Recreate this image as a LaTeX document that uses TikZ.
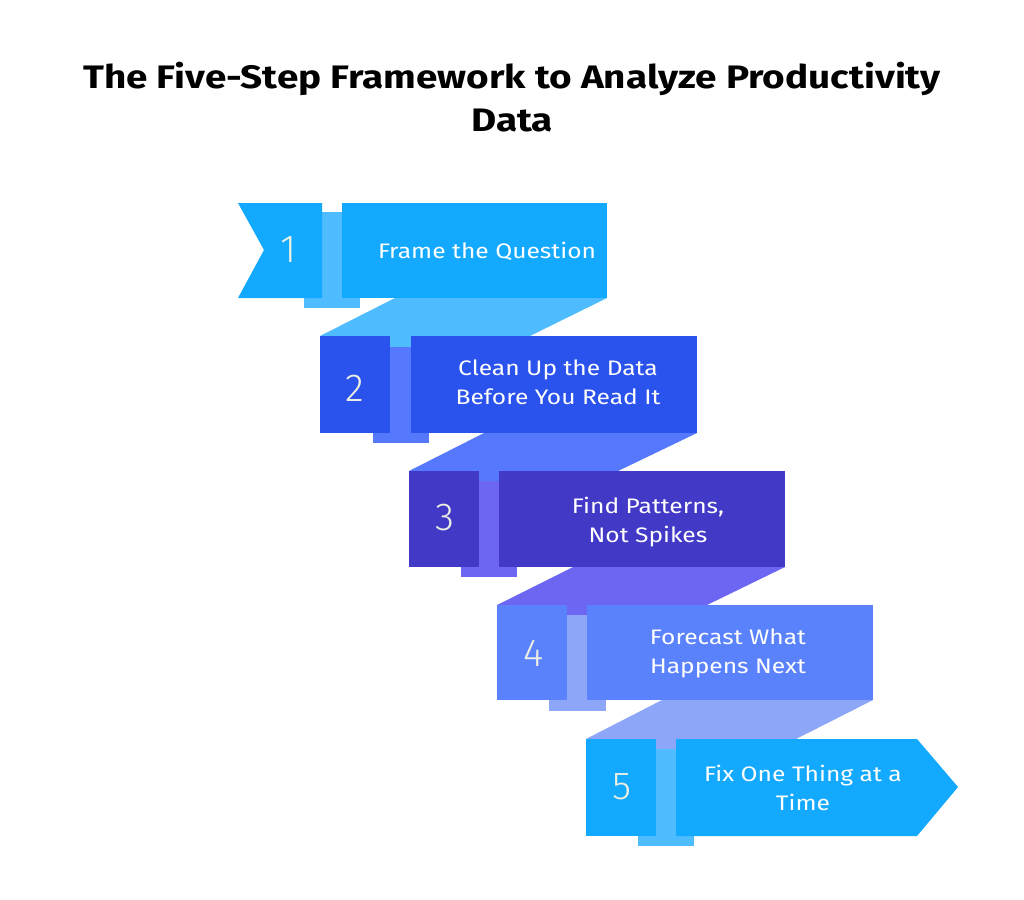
\documentclass[tikz,border=0pt]{standalone}
\usepackage{fontspec}
\setmainfont{Fira Sans}
\newfontfamily\numfont{Fira Sans Light}
\newfontfamily\boxfont{Fira Sans}[FakeStretch=1.17]
\newfontfamily\headfont{Fira Sans Bold}[FakeStretch=1.19]
\usepackage{tikz}
\usepackage{xcolor}

\definecolor{skyA}{HTML}{13A9FE}
\definecolor{skyB}{HTML}{4EBCFE}
\definecolor{royalA}{HTML}{2A52EC}
\definecolor{royalB}{HTML}{5578FC}
\definecolor{indigoA}{HTML}{4239C6}
\definecolor{indigoB}{HTML}{6C66F2}
\definecolor{periA}{HTML}{5B82FD}
\definecolor{periB}{HTML}{8DA6F8}
\definecolor{numtext}{HTML}{EDEFE2}

\begin{document}
\begin{tikzpicture}[x=1pt,y=-1pt,
		numlabel/.style={text=numtext, font=\numfont\fontsize{39}{39}\selectfont},
		steplabel/.style={text=white, align=center, font=\boxfont\fontsize{21}{29}\selectfont},
		titlelabel/.style={text=black, align=center, font=\headfont\fontsize{32.5}{43}\selectfont}]
				\useasboundingbox[fill=white] (0,0) rectangle (1024,899);
				
				% Title
				\node[titlelabel] (title) at (512,97) {The Five-Step Framework to Analyze Productivity\\Data};
				
				% Step 1
				\fill[skyB] (322,212) rectangle (342,298);
				\fill[skyB] (304,298) rectangle (360,308);
				\fill[skyA] (238,203) -- (322,203) -- (322,298) -- (238,298) -- (264,250) -- cycle;
				\fill[skyA] (342,203) rectangle (607,298);
				\node[numlabel] (n1) at (289,250) {1};
				\node[steplabel] (t1) at (487,251) {Frame the Question};
				
				% Fold 1 to 2
				\fill[skyB] (395,298) -- (607,298) -- (530,336) -- (530,347) -- (320,347) -- (320,336) -- cycle;
				
				% Step 2
				\fill[royalB] (390,347) rectangle (411,433);
				\fill[royalB] (373,433) rectangle (429,443);
				\fill[royalA] (320,336) rectangle (390,433);
				\fill[royalA] (411,336) rectangle (697,433);
				\node[numlabel] (n2) at (355,388) {2};
				\node[steplabel] (t2) at (558,382) {Clean Up the Data\\Before You Read It};
				
				% Fold 2 to 3
				\fill[royalB] (484,433) -- (697,433) -- (618,471) -- (618,481) -- (409,481) -- (409,471) -- cycle;
				
				% Step 3
				\fill[indigoB] (479,481) rectangle (499,567);
				\fill[indigoB] (461,567) rectangle (517,577);
				\fill[indigoA] (409,471) rectangle (479,567);
				\fill[indigoA] (499,471) rectangle (785,567);
				\node[numlabel] (n3) at (445,518) {3};
				\node[steplabel] (t3) at (648,522) {Find Patterns,\\Not Spikes};
				
				% Fold 3 to 4
				\fill[indigoB] (573,567) -- (785,567) -- (707,605) -- (707,615) -- (497,615) -- (497,605) -- cycle;
				
				% Step 4
				\fill[periB] (567,615) rectangle (587,700);
				\fill[periB] (549,700) rectangle (606,711);
				\fill[periA] (497,605) rectangle (567,700);
				\fill[periA] (587,605) rectangle (873,700);
				\node[numlabel] (n4) at (534,653) {4};
				\node[steplabel] (t4) at (728,653) {Forecast What\\Happens Next};
				
				% Fold 4 to 5
				\fill[periB] (662,700) -- (873,700) -- (796,739) -- (796,749) -- (586,749) -- (586,739) -- cycle;
				
				% Step 5
				\fill[skyB] (656,749) rectangle (676,836);
				\fill[skyB] (638,836) rectangle (694,846);
				\fill[skyA] (586,739) rectangle (656,836);
				\fill[skyA] (676,739) -- (917,739) -- (958,787) -- (917,836) -- (676,836) -- cycle;
				\node[numlabel] (n5) at (622,787) {5};
				\node[steplabel] (t5) at (803,788) {Fix One Thing at a\\Time};
			\end{tikzpicture}
\end{document}
